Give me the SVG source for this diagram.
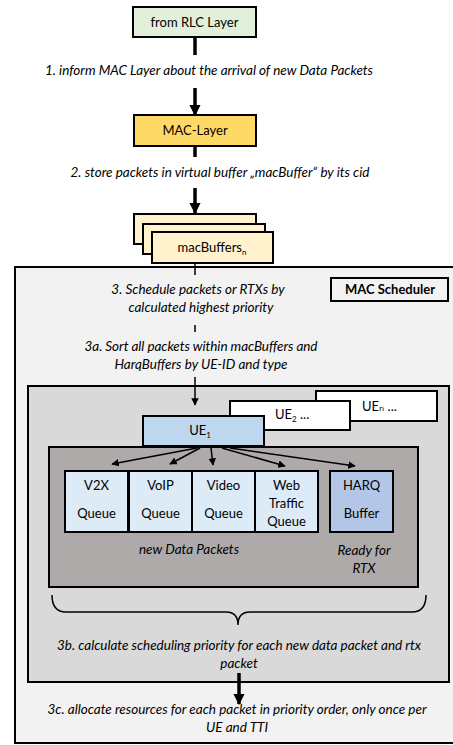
<svg xmlns="http://www.w3.org/2000/svg" width="453" height="745" viewBox="0 0 453 745">
  <defs>
    <style>
      text { font-family: Lato, "Liberation Sans", "DejaVu Sans", sans-serif; fill: #000; }
      .lbl { font-size: 13px; text-anchor: middle; }
      .note { font-size: 13.5px; font-style: italic; text-anchor: middle; }
      .bold { font-weight: bold; }
      .box { stroke: #000; stroke-width: 2; }
      .thin { stroke: #000; stroke-width: 1.5; fill: none; }
      .thick { stroke: #000; stroke-width: 3.5; fill: none; }
    </style>
    <marker id="headBig" viewBox="0 0 10 10" refX="9" refY="5" markerWidth="3.2" markerHeight="3.2" orient="auto" markerUnits="strokeWidth">
      <path d="M0,0 L10,5 L0,10 z" fill="#000"/>
    </marker>
    <marker id="headSmall" viewBox="0 0 10 10" refX="9" refY="5" markerWidth="5" markerHeight="5" orient="auto" markerUnits="strokeWidth">
      <path d="M0,0 L10,5 L0,10 z" fill="#000"/>
    </marker>
  </defs>

  <!-- scheduler container and its inner panels -->
  <g id="mac-scheduler">
    <rect x="15" y="267" width="440" height="476" fill="#f2f2f2" class="box" stroke-width="1.5"/>
    <rect x="331" y="278" width="117" height="23" fill="#f2f2f2" class="box"/>
    <text x="390" y="294" class="lbl bold">MAC Scheduler</text>
  </g>
  <g id="ue-panel">
    <rect x="28" y="386" width="421" height="296" fill="#d9d9d9" class="box"/>
  </g>

  <!-- top of the chain -->
  <g id="rlc-layer">
    <rect x="133" y="7" width="123" height="30" fill="#e2efda" class="box"/>
    <text x="194.5" y="26.5" class="lbl">from RLC Layer</text>
  </g>
  <g id="mac-layer">
    <rect x="134" y="115" width="122" height="31" fill="#ffd966" class="box"/>
    <text x="195" y="135" class="lbl">MAC-Layer</text>
  </g>
  <g id="mac-buffers">
    <rect x="134" y="214" width="122" height="30" fill="#fff2cc" class="box"/>
    <rect x="143" y="224" width="122" height="30" fill="#fff2cc" class="box"/>
    <rect x="152" y="232" width="121" height="31" fill="#fff2cc" class="box"/>
    <text x="212" y="252" class="lbl">macBuffers<tspan font-size="8" dy="3">n</tspan></text>
  </g>

  <!-- user equipment stack -->
  <g id="ue-n">
    <rect x="316" y="391" width="121" height="30" fill="#fff" class="box"/>
    <text x="362" y="411" font-size="13">UEₙ ...</text>
  </g>
  <g id="ue-2">
    <rect x="230" y="401" width="120" height="29" fill="#fff" class="box"/>
    <text x="275" y="419" font-size="13">UE<tspan font-size="8" dy="3">2</tspan><tspan dy="-3"> ...</tspan></text>
  </g>
  <g id="queues-panel">
    <rect x="49" y="447" width="369" height="140" fill="#aeaaaa" class="box"/>
  </g>
  <g id="ue-1">
    <rect x="143" y="416" width="121" height="30" fill="#bdd7ee" class="box"/>
    <text x="200" y="435" class="lbl">UE<tspan font-size="8" dy="3">1</tspan></text>
  </g>

  <!-- per-UE queues -->
  <g id="q-v2x">
    <rect x="65" y="471" width="63" height="61" fill="#ddebf7" class="box"/>
    <text x="96.5" y="490" class="lbl">V2X</text>
    <text x="96.5" y="518" class="lbl">Queue</text>
  </g>
  <g id="q-voip">
    <rect x="129" y="471" width="63" height="61" fill="#ddebf7" class="box"/>
    <text x="160.5" y="490" class="lbl">VoIP</text>
    <text x="160.5" y="518" class="lbl">Queue</text>
  </g>
  <g id="q-video">
    <rect x="192" y="471" width="63" height="61" fill="#ddebf7" class="box"/>
    <text x="223.5" y="490" class="lbl">Video</text>
    <text x="223.5" y="518" class="lbl">Queue</text>
  </g>
  <g id="q-web">
    <rect x="255" y="471" width="63" height="61" fill="#ddebf7" class="box"/>
    <text x="286.5" y="490" class="lbl">Web</text>
    <text x="286.5" y="508" class="lbl">Traffic</text>
    <text x="286.5" y="526" class="lbl">Queue</text>
  </g>
  <g id="harq-buffer">
    <rect x="330" y="471" width="63" height="61" fill="#b4c6e7" class="box"/>
    <text x="361.5" y="490" class="lbl">HARQ</text>
    <text x="361.5" y="518" class="lbl">Buffer</text>
  </g>

  <!-- step descriptions -->
  <g id="notes">
    <text x="209" y="75" class="note" textLength="328">1. inform MAC Layer about the arrival of new Data Packets</text>
    <text x="220" y="177" class="note" textLength="299">2. store packets in virtual buffer „macBuffer“ by its cid</text>
    <text x="198" y="294" class="note">3. Schedule packets or RTXs by</text>
    <text x="201" y="312" class="note">calculated highest priority</text>
    <text x="201" y="351" class="note" textLength="233">3a. Sort all packets within macBuffers and</text>
    <text x="201" y="369" class="note">HarqBuffers by UE-ID and type</text>
    <text x="189" y="554" class="note">new Data Packets</text>
    <text x="364" y="555" class="note">Ready for</text>
    <text x="364" y="573" class="note">RTX</text>
    <text x="239" y="650" class="note" textLength="364">3b. calculate scheduling priority for each new data packet and rtx</text>
    <text x="239" y="668" class="note">packet</text>
    <text x="237" y="714" class="note" textLength="379">3c. allocate resources for each packet in priority order, only once per</text>
    <text x="237" y="732" class="note">UE and TTI</text>
  </g>

  <!-- connectors -->
  <g id="connectors">
    <line x1="195" y1="37" x2="195" y2="55" class="thick"/>
    <line x1="195" y1="88" x2="195" y2="115" class="thick" marker-end="url(#headBig)"/>
    <line x1="195" y1="146" x2="195" y2="157" class="thick"/>
    <line x1="195" y1="188" x2="195" y2="213" class="thick" marker-end="url(#headBig)"/>
    <line x1="195" y1="263" x2="195" y2="275" class="thin"/>
    <line x1="195" y1="325" x2="195" y2="332" class="thin"/>
    <line x1="195" y1="377" x2="195" y2="405" class="thin" marker-end="url(#headSmall)"/>
    <line x1="197" y1="448" x2="112" y2="464" class="thin" marker-end="url(#headSmall)"/>
    <line x1="200" y1="448" x2="170" y2="464" class="thin" marker-end="url(#headSmall)"/>
    <line x1="211" y1="448" x2="213" y2="465" class="thin" marker-end="url(#headSmall)"/>
    <line x1="222" y1="448" x2="285" y2="466" class="thin" marker-end="url(#headSmall)"/>
    <line x1="230" y1="448" x2="355" y2="466" class="thin" marker-end="url(#headSmall)"/>
    <path d="M52,595 Q52,612 66,612 L226,612 Q238,612 238,625 Q238,612 250,612 L412,612 Q426,612 426,595" class="thin"/>
    <line x1="239" y1="673" x2="239" y2="704" class="thick" marker-end="url(#headBig)"/>
  </g>
</svg>
